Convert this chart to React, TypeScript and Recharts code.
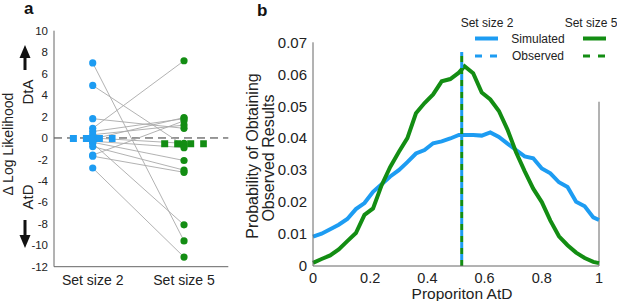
import React from 'react';
import { ComposedChart, Line, Scatter, XAxis, YAxis, ReferenceLine } from 'recharts';

const BLUE = '#1d9cf2';
const GREEN = '#138d13';
const FONT = '"Liberation Sans", Arial, sans-serif';

// Panel a: per-participant difference in log likelihood
const groupLabels = ['Set size 2', 'Set size 5'];
const groupPos = [1, 2];
const llTicks = [10, 8, 6, 4, 2, 0, -2, -4, -6, -8, -10, -12];
const llSetSize2 = [7.0, 4.9, 1.8, 0.9, 0.6, 0.3, 0.0, -0.1, -0.4, -0.8, -0.5, -1.6, -1.7, -2.8, -0.3];
const llSetSize5 = [-9.6, -0.7, 0.9, 7.2, 1.8, 1.2, -0.5, 1.9, -2.1, -3.0, -8.1, 1.6, -3.2, -11.1, -0.9];
const llMeans = [-0.05, -0.55];
const meanHalfWidth = 0.25;

// Panel b: simulated probability vs proportion AtD
const propX = [0, 0.03, 0.06, 0.09, 0.12, 0.15, 0.18, 0.21, 0.24, 0.27, 0.3, 0.33, 0.36, 0.39, 0.42, 0.45, 0.48, 0.51, 0.53, 0.56, 0.59, 0.62, 0.65, 0.68, 0.71, 0.74, 0.77, 0.8, 0.83, 0.86, 0.89, 0.92, 0.95, 0.98, 1.0];
const simSet2 = [0.0092, 0.0101, 0.0115, 0.0129, 0.0147, 0.0178, 0.0197, 0.0232, 0.0256, 0.028, 0.030, 0.0325, 0.0352, 0.0363, 0.0384, 0.039, 0.0399, 0.041, 0.041, 0.041, 0.0408, 0.0418, 0.0404, 0.0383, 0.0363, 0.0343, 0.0337, 0.0305, 0.029, 0.0262, 0.0247, 0.0201, 0.0187, 0.0152, 0.0144];
const simSet5 = [0.001, 0.0022, 0.0033, 0.0052, 0.0078, 0.0103, 0.016, 0.018, 0.0253, 0.031, 0.0357, 0.040, 0.0478, 0.051, 0.0537, 0.0578, 0.0585, 0.0605, 0.0625, 0.0603, 0.0543, 0.0521, 0.0485, 0.0427, 0.0356, 0.0297, 0.0242, 0.020, 0.0142, 0.0093, 0.0065, 0.0042, 0.0025, 0.0013, 0.0009];
const observedSet2 = 0.52;
const observedSet5 = 0.52;
const observedTop = 0.067;
const probTicks = [0, 0.01, 0.02, 0.03, 0.04, 0.05, 0.06, 0.07];
const propTicks = [0, 0.2, 0.4, 0.6, 0.8, 1];
const rightEdgeTop = 0.0514;

const curveRows = propX.map((x, i) => ({ x, s2: simSet2[i], s5: simSet5[i] }));

const dot = (color: string) => (p: any) => <circle cx={p.cx} cy={p.cy} r={3.6} fill={color} />;

const PanelA = () => (
  <ComposedChart width={240} height={301} margin={{ top: 30.7, right: 11.7, bottom: 4.3, left: 14 }}>
    <XAxis
      type="number"
      dataKey="x"
      domain={[0.576, 2.485]}
      ticks={groupPos}
      tickFormatter={(v: number) => groupLabels[groupPos.indexOf(v)] ?? ''}
      stroke="#666"
      tick={{ fill: '#222', fontSize: 14, fontFamily: FONT }}
      tickLine={false}
      height={30}
    />
    <YAxis
      type="number"
      dataKey="y"
      domain={[-12, 10]}
      ticks={llTicks}
      stroke="#666"
      tick={{ fill: '#222', fontSize: 11.5, fontFamily: FONT }}
      tickLine={false}
      tickMargin={0}
      width={40}
    />
    <ReferenceLine y={0} stroke="#333" strokeDasharray="8 5" strokeWidth={1} />
    {llSetSize2.map((b, i) => (
      <Line
        key={'c' + i}
        data={[{ x: 1, y: b }, { x: 2, y: llSetSize5[i] }]}
        dataKey="y"
        stroke="#a9a9a9"
        strokeWidth={0.9}
        dot={false}
        isAnimationActive={false}
      />
    ))}
    {llMeans.map((m, i) => (
      <Line
        key={'m' + i}
        data={[{ x: groupPos[i] - meanHalfWidth, y: m }, { x: groupPos[i] + meanHalfWidth, y: m }]}
        dataKey="y"
        stroke={i === 0 ? BLUE : GREEN}
        strokeWidth={7}
        strokeDasharray="7 6"
        dot={false}
        isAnimationActive={false}
      />
    ))}
    <Scatter data={llSetSize2.map((y) => ({ x: 1, y }))} shape={dot(BLUE)} isAnimationActive={false} />
    <Scatter data={llSetSize5.map((y) => ({ x: 2, y }))} shape={dot(GREEN)} isAnimationActive={false} />
  </ComposedChart>
);

const PanelB = () => (
  <ComposedChart width={387} height={301} data={curveRows} margin={{ top: 42.3, right: 18, bottom: 5, left: 23 }}>
    <XAxis
      type="number"
      dataKey="x"
      domain={[0, 1]}
      ticks={propTicks}
      tickFormatter={(v: number) => String(v)}
      stroke="#666"
      tick={{ fill: '#222', fontSize: 14.5, fontFamily: FONT }}
      tickLine={false}
      tickMargin={1}
      height={30}
    />
    <YAxis
      type="number"
      domain={[0, 0.07]}
      ticks={probTicks}
      tickFormatter={(v: number) => (v === 0 ? '0' : v.toFixed(2))}
      stroke="#666"
      tick={{ fill: '#222', fontSize: 15, fontFamily: FONT }}
      tickLine={false}
      tickMargin={0}
      width={60}
    />
    <ReferenceLine segment={[{ x: 1, y: 0 }, { x: 1, y: rightEdgeTop }]} stroke="#666" strokeWidth={1} />
    <Line dataKey="s2" stroke={BLUE} strokeWidth={4} dot={false} isAnimationActive={false} />
    <Line dataKey="s5" stroke={GREEN} strokeWidth={4} dot={false} isAnimationActive={false} />
    <Line
      data={[{ x: observedSet2, v: 0 }, { x: observedSet2, v: observedTop }]}
      dataKey="v"
      stroke={BLUE}
      strokeWidth={3}
      strokeDasharray="6 6"
      strokeDashoffset={6}
      dot={false}
      isAnimationActive={false}
    />
    <Line
      data={[{ x: observedSet5, v: 0 }, { x: observedSet5, v: observedTop }]}
      dataKey="v"
      stroke={GREEN}
      strokeWidth={3}
      strokeDasharray="6 6"
      dot={false}
      isAnimationActive={false}
    />
  </ComposedChart>
);

const Annotations = () => (
  <svg width={617} height={301} style={{ position: 'absolute', left: 0, top: 0, pointerEvents: 'none' }} fontFamily={FONT}>
    <text x={24} y={14} fontSize={17} fontWeight="bold" fill="#111">a</text>
    <text x={257} y={16} fontSize={17} fontWeight="bold" fill="#111">b</text>

    <text x={8} y={144} fontSize={14} fill="#222" textAnchor="middle" dominantBaseline="central" transform="rotate(-90 8 144)">
      Δ Log Likelihood
    </text>
    <text x={27} y={92} fontSize={15} fill="#222" textAnchor="middle" dominantBaseline="central" transform="rotate(-90 27 92)">DtA</text>
    <text x={27} y={197} fontSize={15} fill="#222" textAnchor="middle" dominantBaseline="central" transform="rotate(-90 27 197)">AtD</text>
    <polygon points="25,45 19.5,58 30.5,58" fill="#111" />
    <rect x={23.5} y={57} width={3} height={13} fill="#111" />
    <rect x={23.5} y={220} width={3} height={16} fill="#111" />
    <polygon points="19.5,235 30.5,235 25,248" fill="#111" />

    <text x={252} y={156} fontSize={16} fill="#222" textAnchor="middle" dominantBaseline="central" transform="rotate(-90 252 156)">
      Probability of Obtaining
    </text>
    <text x={268} y={158} fontSize={16} fill="#222" textAnchor="middle" dominantBaseline="central" transform="rotate(-90 268 158)">
      Observed Results
    </text>
    <text x={462} y={293.5} fontSize={15.5} fill="#222" textAnchor="middle" dominantBaseline="central">Proporiton AtD</text>

    <text x={487} y={23} fontSize={12} fill="#222" textAnchor="middle" dominantBaseline="central">Set size 2</text>
    <text x={591} y={23} fontSize={12} fill="#222" textAnchor="middle" dominantBaseline="central">Set size 5</text>
    <text x={538} y={38.5} fontSize={12} fill="#222" textAnchor="middle" dominantBaseline="central">Simulated</text>
    <text x={538} y={56} fontSize={12} fill="#222" textAnchor="middle" dominantBaseline="central">Observed</text>
    <line x1={475} y1={38.5} x2={498} y2={38.5} stroke={BLUE} strokeWidth={4} />
    <line x1={583} y1={38.5} x2={606} y2={38.5} stroke={GREEN} strokeWidth={4} />
    <line x1={475} y1={56} x2={498} y2={56} stroke={BLUE} strokeWidth={3} strokeDasharray="7 8" />
    <line x1={583} y1={56} x2={606} y2={56} stroke={GREEN} strokeWidth={3} strokeDasharray="7 8" />
  </svg>
);

export default function App() {
  return (
    <div style={{ position: 'absolute', left: 0, top: 0, width: 617, height: 301, background: '#fff', fontFamily: FONT }}>
      <div style={{ position: 'absolute', left: 0, top: 0 }}>
        <PanelA />
      </div>
      <div style={{ position: 'absolute', left: 230, top: 0 }}>
        <PanelB />
      </div>
      <Annotations />
    </div>
  );
}
